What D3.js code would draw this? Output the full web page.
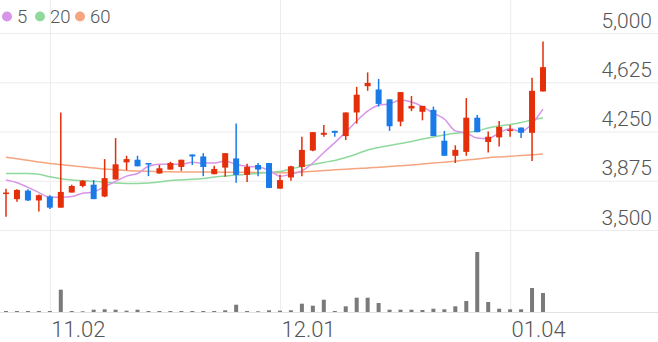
<!DOCTYPE html>
<html>
<head>
<meta charset="utf-8">
<script src="https://cdn.jsdelivr.net/npm/d3@7"></script>
<style>
	body { margin: 0; background: #fff; }
	svg { display: block; font-family: Roboto, "Noto Sans", sans-serif; }
</style>
</head>
<body>
<svg id="chart" width="658" height="342"></svg>
<script>
//--data
var dates = ["10.27", "10.30", "10.31", "11.01", "11.02", "11.03", "11.06", "11.07", "11.08", "11.09",
	"11.10", "11.13", "11.14", "11.15", "11.16", "11.17", "11.20", "11.21", "11.22", "11.23",
	"11.24", "11.27", "11.28", "11.29", "11.30", "12.01", "12.04", "12.05", "12.06", "12.07",
	"12.08", "12.11", "12.12", "12.13", "12.14", "12.15", "12.18", "12.19", "12.20", "12.21",
	"12.22", "12.26", "12.27", "12.28", "01.02", "01.03", "01.04", "01.05", "01.08", "01.09"];

var open = [3775, 3735, 3800, 3725, 3755, 3670, 3785, 3835, 3845, 3755,
	3885, 4015, 4035, 4010, 3930, 3960, 3980, 4075, 4060, 3925,
	3975, 4045, 3920, 3995, 4010, 3815, 3900, 3980, 4105, 4225,
	4255, 4215, 4395, 4595, 4570, 4495, 4325, 4425, 4400, 4415,
	4180, 4065, 4095, 4355, 4170, 4205, 4255, 4280, 4240, 4555];
var high = [3815, 3810, 3810, 3770, 3765, 4395, 3845, 3880, 3880, 4040,
	4200, 4065, 4065, 4010, 3995, 4020, 4035, 4075, 4085, 3990,
	4085, 4310, 4005, 4010, 4010, 3920, 3990, 4210, 4245, 4300,
	4255, 4395, 4590, 4700, 4650, 4495, 4550, 4520, 4445, 4440,
	4255, 4145, 4505, 4375, 4250, 4330, 4300, 4280, 4660, 4935];
var low = [3600, 3715, 3720, 3640, 3660, 3670, 3785, 3825, 3735, 3750,
	3885, 3955, 3985, 3910, 3930, 3960, 3950, 3995, 3910, 3925,
	3905, 3860, 3865, 3910, 3820, 3815, 3875, 3910, 4100, 4210,
	4210, 4185, 4310, 4560, 4440, 4255, 4290, 4405, 4335, 4215,
	4065, 4010, 4065, 4245, 4090, 4135, 4210, 4200, 4025, 4555];
var close = [3785, 3805, 3725, 3765, 3670, 3790, 3835, 3875, 3735, 3895,
	4000, 4040, 3985, 4000, 3970, 4010, 4035, 4060, 3980, 3965,
	4085, 3920, 3980, 3960, 3820, 3880, 3985, 4110, 4245, 4240,
	4240, 4395, 4530, 4620, 4460, 4290, 4550, 4445, 4445, 4215,
	4065, 4110, 4355, 4245, 4210, 4285, 4265, 4240, 4560, 4740];
var volume = [10, 10, 10, 10, 10, 223, 10, 7, 23, 27,
	23, 13, 23, 10, 10, 10, 10, 10, 10, 10,
	17, 73, 10, 7, 17, 13, 17, 83, 63, 123,
	10, 57, 143, 143, 90, 23, 23, 23, 20, 33,
	27, 57, 110, 600, 100, 33, 27, 27, 240, 190];

//moving averages as drawn
var ma5 = [3880, 3860, 3825, 3785, 3750, 3750, 3755, 3780, 3790, 3830,
	3870, 3910, 3930, 3985, 4000, 4000, 4000, 4015, 4010, 4010,
	4025, 4000, 3985, 3980, 3955, 3910, 3925, 3950, 4010, 4090,
	4165, 4245, 4330, 4405, 4450, 4460, 4490, 4475, 4440, 4390,
	4345, 4255, 4240, 4200, 4195, 4240, 4270, 4250, 4310, 4420];
var ma20 = [3930, 3930, 3930, 3925, 3905, 3890, 3880, 3875, 3870, 3865,
	3858, 3855, 3855, 3858, 3865, 3877, 3881, 3886, 3893, 3903,
	3911, 3919, 3924, 3932, 3938, 3945, 3965, 3984, 3999, 4014,
	4029, 4052, 4079, 4109, 4128, 4143, 4159, 4174, 4193, 4208,
	4223, 4236, 4244, 4254, 4277, 4292, 4303, 4319, 4338, 4355];
var ma60 = [4054, 4042, 4031, 4018, 4006, 3998, 3990, 3981, 3972, 3965,
	3958, 3953, 3949, 3947, 3945, 3943, 3942, 3942, 3942, 3941,
	3940, 3939, 3939, 3938, 3936, 3936, 3938, 3942, 3947, 3953,
	3958, 3963, 3968, 3972, 3978, 3983, 3989, 3995, 4003, 4010,
	4016, 4023, 4033, 4041, 4050, 4056, 4061, 4067, 4073, 4079];

var priceTicks = [3500, 3875, 4250, 4625, 5000];
var dateTicks = ["11.02", "12.01", "01.04"];

var legend = [
	{ name: "5", color: "#d895e8" },
	{ name: "20", color: "#8fd99d" },
	{ name: "60", color: "#f5a57f" }
];
//--END data

var width = 658, height = 342;
var upColor = "#e52e0a", downColor = "#1a7be8";

var svg = d3.select("#chart");

//scales
var x = d3.scaleLinear().domain([0, dates.length - 1]).range([6, 543]);
var y = d3.scaleLinear().domain([3500, 5000]).range([230, 33]);
var yVol = d3.scaleLinear().domain([0, 600]).range([312, 252]);

//horizontal grid + price labels
var yAxis = d3.axisRight(y).tickValues(priceTicks).tickSize(width).tickFormat(d3.format(","));
var gy = svg.append("g").call(yAxis);
gy.select(".domain").remove();
gy.selectAll(".tick line").attr("stroke", "#ececec");
gy.selectAll(".tick text")
	.attr("x", 652).attr("dy", -6)
	.attr("text-anchor", "end")
	.style("font-family", "Roboto, sans-serif")
	.style("font-size", "21px").style("font-weight", 300)
	.attr("fill", "#555");

//vertical grid + date labels
var tickIdx = dateTicks.map(function (t) { return dates.indexOf(t); });
var xAxis = d3.axisBottom(x).tickValues(tickIdx).tickSize(312)
	.tickFormat(function (i) { return dates[i]; });
var gx = svg.append("g").call(xAxis);
gx.select(".domain").remove();
gx.selectAll(".tick line").attr("stroke", "#ececec");
gx.selectAll(".tick text")
	.attr("y", 337).attr("dy", 0).attr("x", 1)
	.attr("text-anchor", "start")
	.style("font-family", "Roboto, sans-serif")
	.style("font-size", "22px").style("font-weight", 300)
	.attr("fill", "#555");

//volume baseline
svg.append("line")
	.attr("x1", 0).attr("x2", width)
	.attr("y1", yVol(0) + 0.5).attr("y2", yVol(0) + 0.5)
	.attr("stroke", "#e2e2e2");

//volume bars
svg.append("g").selectAll("rect").data(volume).enter().append("rect")
	.attr("x", function (d, i) { return x(i) - 2; })
	.attr("width", 4)
	.attr("y", function (d) { return yVol(d); })
	.attr("height", function (d) { return yVol(0) - yVol(d); })
	.attr("fill", "#7a7a7a");

//moving average lines
var lineGen = d3.line()
	.x(function (d, i) { return x(i); })
	.y(function (d) { return y(d); })
	.curve(d3.curveMonotoneX);

[ma60, ma20, ma5].forEach(function (series, k) {
	svg.append("path")
		.datum(series)
		.attr("d", lineGen)
		.attr("fill", "none")
		.attr("stroke", legend[2 - k].color)
		.attr("stroke-width", 1.5);
});

//candles
var candles = svg.append("g").selectAll("g").data(dates).enter().append("g");
candles.append("line")
	.attr("x1", function (d, i) { return x(i); })
	.attr("x2", function (d, i) { return x(i); })
	.attr("y1", function (d, i) { return y(high[i]); })
	.attr("y2", function (d, i) { return y(low[i]); })
	.attr("stroke", function (d, i) { return close[i] >= open[i] ? upColor : downColor; })
	.attr("stroke-width", 1.5);
candles.append("rect")
	.attr("x", function (d, i) { return x(i) - 3; })
	.attr("width", 6)
	.attr("y", function (d, i) { return y(Math.max(open[i], close[i])); })
	.attr("height", function (d, i) { return Math.max(1.5, Math.abs(y(open[i]) - y(close[i]))); })
	.attr("fill", function (d, i) { return close[i] >= open[i] ? upColor : downColor; });

//legend
var lg = svg.append("g").selectAll("g").data(legend).enter().append("g");
var legendX = [7, 40, 80];
lg.append("circle")
	.attr("cx", function (d, i) { return legendX[i]; })
	.attr("cy", 16.5)
	.attr("r", 5)
	.attr("fill", function (d) { return d.color; });
lg.append("text")
	.attr("x", function (d, i) { return legendX[i] + 10; })
	.attr("y", 23)
	.style("font-size", "18.5px").style("font-weight", 300)
	.attr("fill", "#555")
	.text(function (d) { return d.name; });
</script>
</body>
</html>
